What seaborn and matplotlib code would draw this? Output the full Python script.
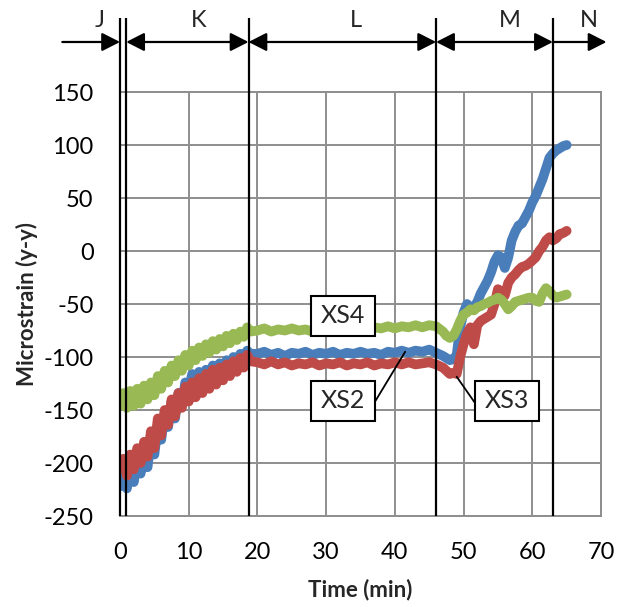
import matplotlib
matplotlib.use("Agg")
import matplotlib.pyplot as plt
import pandas as pd
import seaborn as sns
from matplotlib.patches import FancyArrowPatch, Rectangle

# Sample times (min)
minutes = [
    0, 0.5, 1, 1.5, 2, 2.5, 3, 3.5, 4, 4.5, 5, 5.5, 6, 6.5, 7, 7.5, 8, 8.5, 9, 9.5,
    10, 10.5, 11, 11.5, 12, 12.5, 13, 13.5, 14, 14.5, 15, 15.5, 16, 16.5, 17, 17.5,
    18, 18.5, 19,
    20, 21, 22, 23, 24, 25, 26, 27, 28, 29, 30, 31, 32, 33, 34, 35, 36, 37, 38, 39,
    40, 41, 42, 43, 44, 45, 46, 47,
    47.5, 48, 48.5, 49, 49.5, 50, 50.5, 51, 51.5, 52, 52.5, 53, 53.5, 54, 54.5, 55,
    55.5, 56, 56.5, 57, 57.5, 58, 58.5, 59, 59.5, 60, 60.5, 61, 61.5, 62, 62.5, 63,
    63.5, 64, 64.5, 65,
]

xs2 = [
    -222, -206, -224, -200, -218, -196, -210, -188, -204, -176, -192, -164, -178, -152,
    -166, -142, -158, -134, -146, -124, -132, -116, -126, -114, -124, -112, -122, -108,
    -118, -106, -114, -103, -110, -100, -106, -97, -102, -94, -97,
    -97, -95, -98, -96, -99, -96, -97, -95, -98, -96, -97, -95, -98, -96, -97, -95,
    -97, -96, -98, -95, -96, -94, -96, -94, -95, -93, -96, -99,
    -101, -103, -102, -98, -72, -58, -50, -54, -53, -48, -40, -34, -28, -20, -10, -4,
    -6, -16, -6, 10, 18, 24, 26, 32, 38, 46, 52, 60, 68, 78, 88, 92, 95, 97, 99, 100,
]

xs3 = [
    -205, -196, -212, -192, -206, -186, -200, -180, -194, -170, -186, -158, -174, -150,
    -164, -140, -156, -134, -148, -128, -142, -124, -138, -120, -134, -116, -130, -112,
    -126, -110, -122, -107, -118, -104, -114, -101, -110, -98, -104,
    -105, -107, -104, -107, -105, -108, -106, -107, -105, -108, -106, -107, -105, -108,
    -106, -107, -105, -108, -106, -107, -105, -107, -105, -107, -106, -105, -107, -110,
    -113, -116, -115, -116, -100, -88, -78, -72, -88, -70, -66, -64, -62, -60, -50, -36,
    -38, -42, -30, -25, -22, -18, -15, -14, -12, -9, -6, 0, 4, 10, 13, 10, 12, 16, 17, 19,
]

xs4 = [
    -146, -134, -148, -132, -146, -130, -144, -127, -140, -124, -136, -118, -130, -113,
    -124, -108, -118, -103, -113, -98, -108, -94, -103, -91, -99, -88, -96, -85,
    -93, -83, -90, -80, -87, -78, -84, -76, -81, -72, -76,
    -75, -73, -76, -74, -75, -73, -75, -74, -76, -73, -74, -72, -75, -73, -74, -72,
    -74, -72, -73, -71, -73, -71, -72, -70, -72, -70, -71, -76,
    -80, -82, -80, -74, -66, -60, -58, -55, -56, -53, -52, -50, -49, -47, -46, -44,
    -46, -50, -55, -52, -48, -47, -46, -45, -44, -44, -47, -48, -40, -35, -38, -42,
    -44, -43, -42, -41,
]

gauges = ["XS2", "XS3", "XS4"]
gauge_colors = ["#4a7ebb", "#be4b48", "#98b954"]

# Test phase boundaries (min) and phase names
phase_edges = [0, 0.9, 18.7, 46, 63]
phase_names = ["J", "K", "L", "M", "N"]
phase_name_x = [-2.9, 11.5, 34.4, 56.7, 68.2]

df = pd.concat(
    [pd.DataFrame({"Time": minutes, "Strain": vals, "Gauge": g})
     for g, vals in zip(gauges, [xs2, xs3, xs4])],
    ignore_index=True,
)

sns.set_theme(style="white")
plt.rcParams["font.family"] = ["Lato", "DejaVu Sans"]
plt.rcParams["axes.unicode_minus"] = False

fig = plt.figure(figsize=(6.18, 6.07), dpi=100)
ax = fig.add_axes([0.1942, 0.1499, 0.7783, 0.6985])

sns.lineplot(data=df, x="Time", y="Strain", hue="Gauge", hue_order=gauges,
             palette=gauge_colors, estimator=None, sort=False, lw=7,
             legend=False, ax=ax, zorder=3)

grid_c = "#8e8e8e"
ax.set_xlim(0, 70)
ax.set_ylim(-250, 150)
ax.set_xticks(range(0, 71, 10))
ax.set_yticks(range(-250, 151, 50))
ax.grid(True, color=grid_c, lw=1.4)
ax.set_axisbelow(True)
for s in ax.spines.values():
    s.set_color(grid_c)
    s.set_linewidth(1.4)
ax.tick_params(length=0, pad=19, labelsize=17, colors="black")

ax.set_xlabel("Time (min)", fontsize=16, fontweight="bold")
ax.set_ylabel("Microstrain (y-y)", fontsize=16, fontweight="bold")
ax.xaxis.set_label_coords(0.5, -0.1745)
ax.xaxis.label.set_va("center")
ax.yaxis.set_label_coords(-0.193, 0.5)
ax.yaxis.label.set_va("center")

# Phase boundary lines and arrows
xt = ax.get_xaxis_transform()
ax.vlines(phase_edges, 0, 1.175, transform=xt, colors="black", lw=1.6,
          clip_on=False, zorder=4)

arrow_y = 1.118
spans = [(-8.4, phase_edges[0], "-|>")]
for a, b in zip(phase_edges[1:-1], phase_edges[2:]):
    spans.append((a, b, "<|-|>"))
spans.append((phase_edges[-1], 70.8, "-|>"))
for a, b, style in spans:
    arr = FancyArrowPatch((a, arrow_y), (b, arrow_y), transform=xt,
                          arrowstyle=style + ",head_length=0.55,head_width=0.28",
                          mutation_scale=20, lw=1.6, color="black",
                          shrinkA=0, shrinkB=0, clip_on=False)
    ax.add_patch(arr)
for name, x in zip(phase_names, phase_name_x):
    ax.text(x, 1.168, name, transform=xt, ha="center", va="center", fontsize=17)

# Gauge labels with leader lines
box_w, box_h = 9.35, 37.7
callouts = [
    ("XS4", 32.4, -61.3, None),
    ("XS2", 32.4, -141.3, ((37.1, -142.2), (41.5, -95))),
    ("XS3", 56.3, -141.3, ((51.7, -143.7), (49.0, -118.6))),
]
for label, cx, cy, leader in callouts:
    if leader is not None:
        (x0, y0), (x1, y1) = leader
        ax.plot([x0, x1], [y0, y1], color="black", lw=1.3, zorder=5)
    ax.add_patch(Rectangle((cx - box_w / 2, cy - box_h / 2), box_w, box_h,
                           fc="white", ec="black", lw=1.5, zorder=6))
    ax.text(cx, cy, label, ha="center", va="center", fontsize=18, zorder=7)

fig.savefig("out.png", dpi=100)
